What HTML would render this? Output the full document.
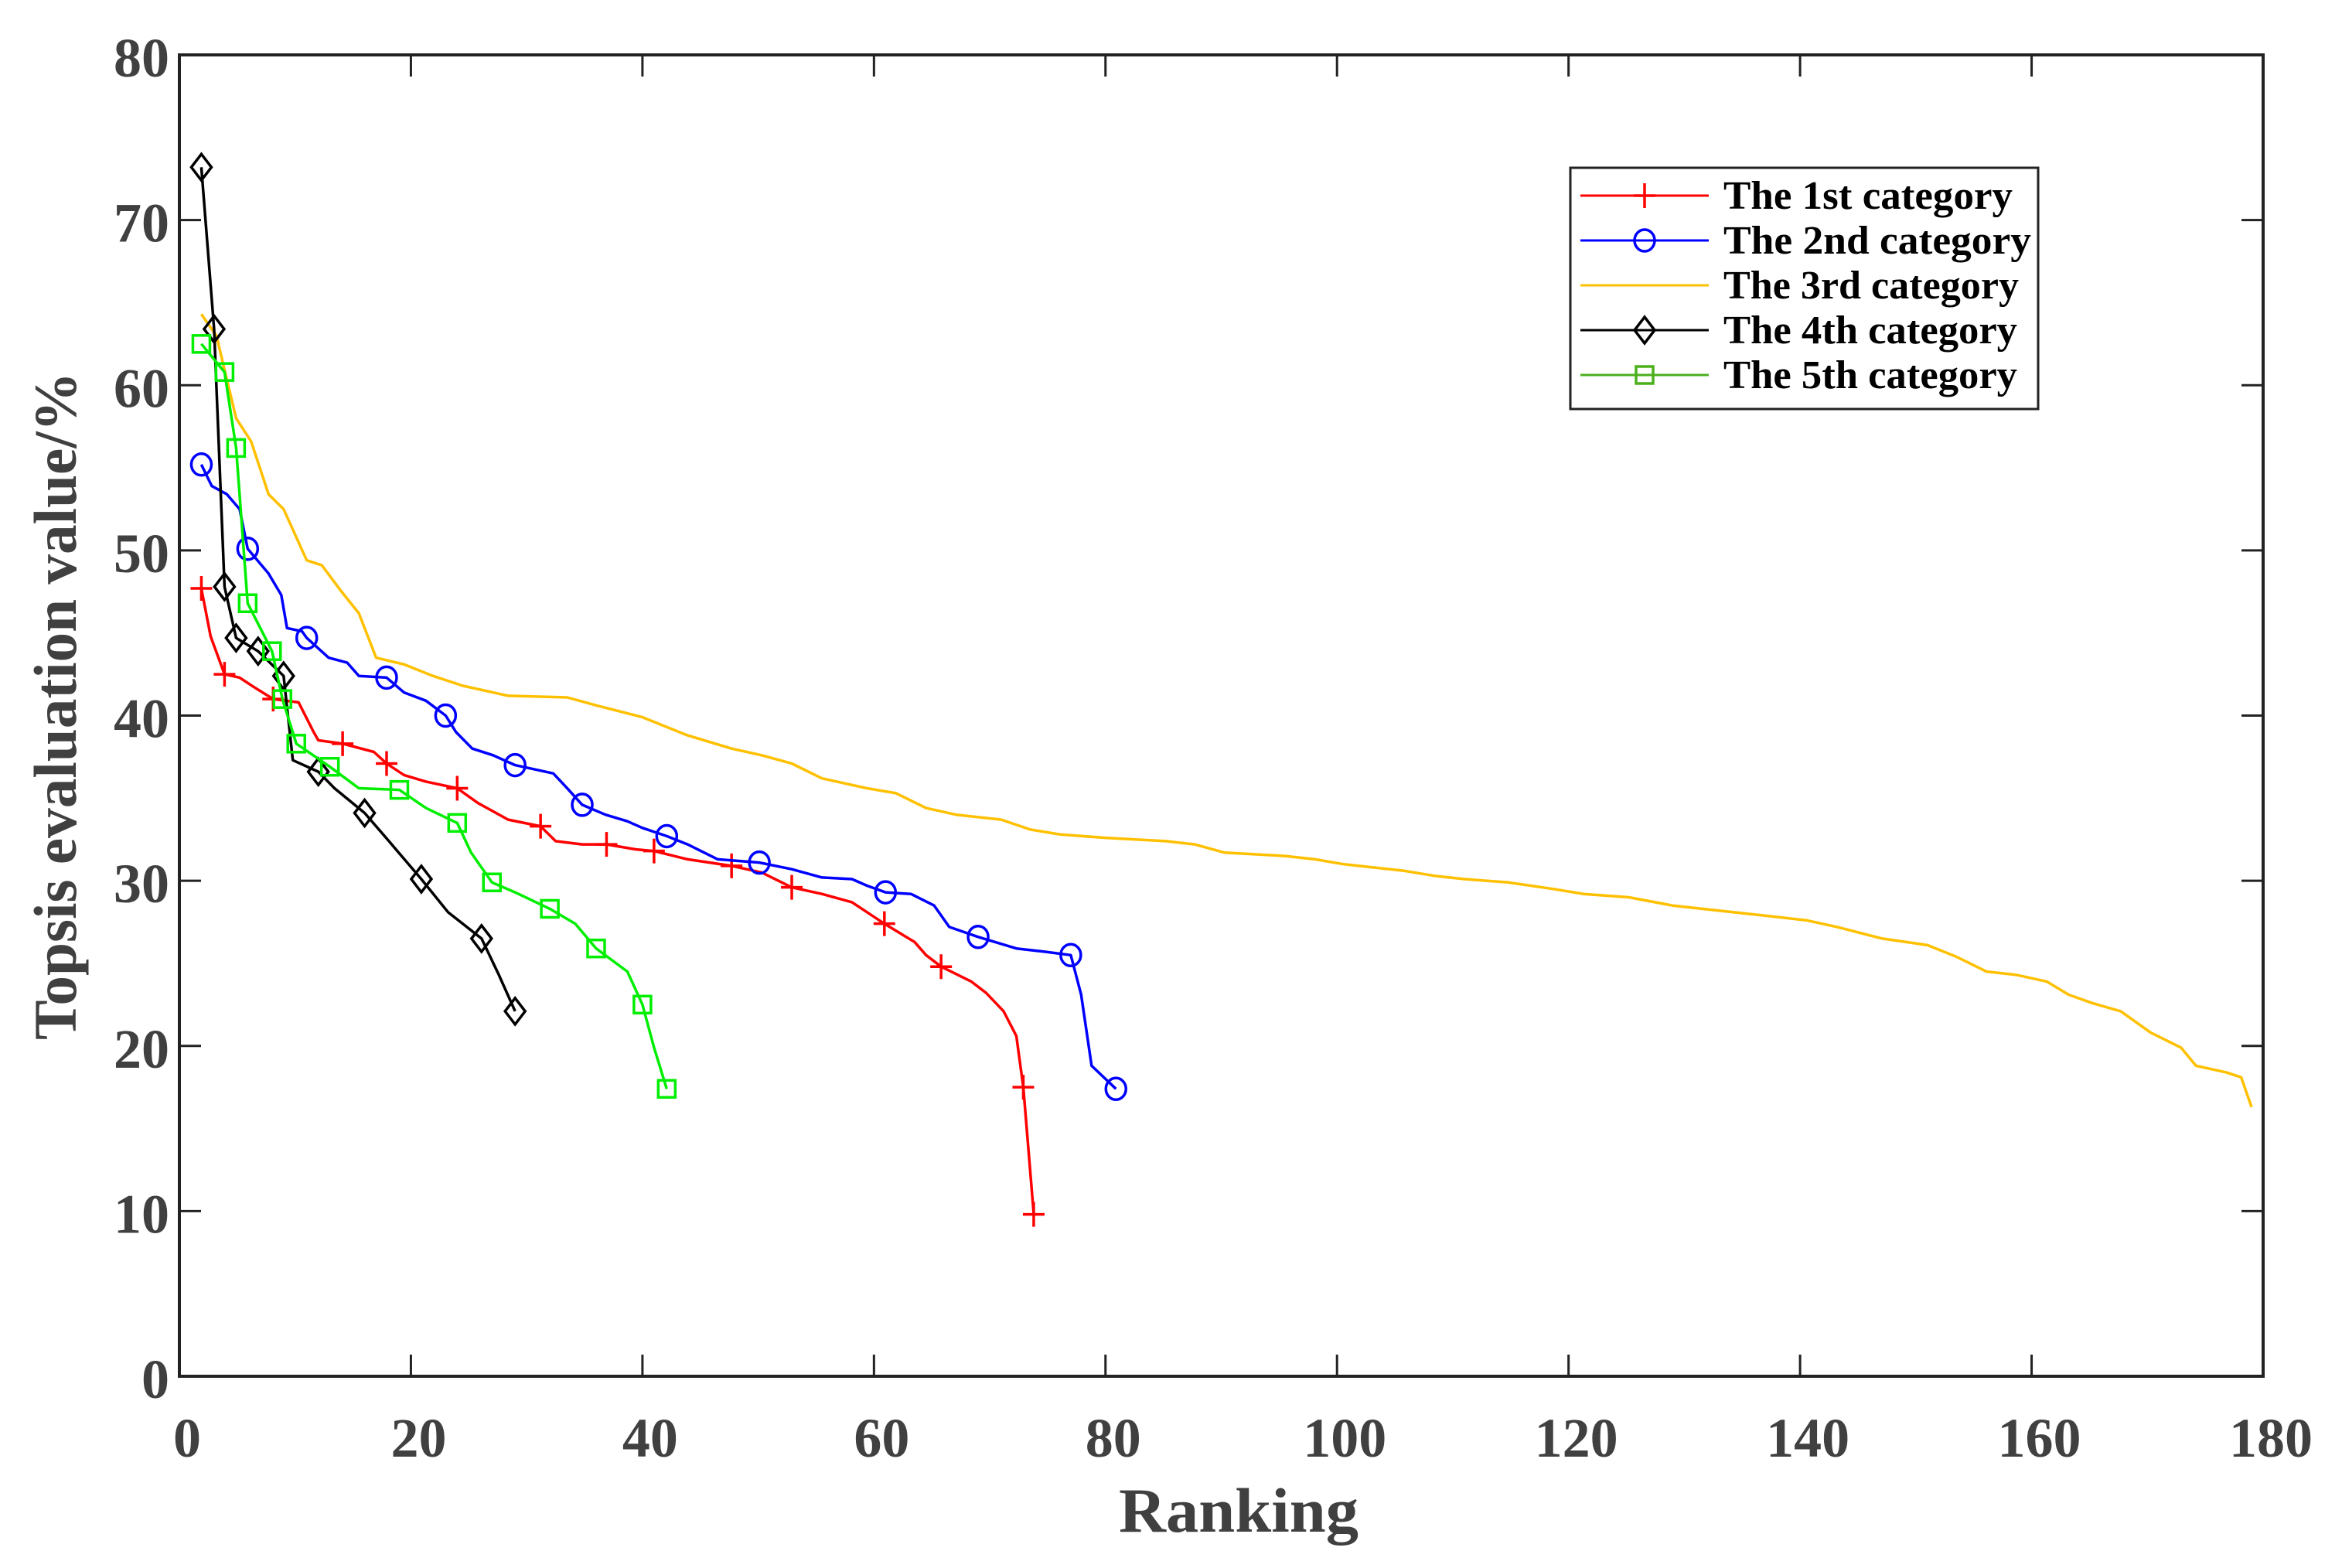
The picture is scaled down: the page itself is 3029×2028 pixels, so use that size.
<!DOCTYPE html>
<html><head><meta charset="utf-8"><style>
html,body{margin:0;padding:0;background:#fff;}
svg{display:block;}
</style></head>
<body>
<svg id="chart" width="3029" height="2028" viewBox="0 0 3029 2028" xmlns="http://www.w3.org/2000/svg" font-family="'Liberation Serif', serif" font-weight="bold">
<rect x="0" y="0" width="3029" height="2028" fill="#fff"/>
<g id="plot"></g>
<g id="axes"></g>
<g id="legend"></g>
</svg>
<script>
const xTicks = [0,20,40,60,80,100,120,140,160,180];
const yTicks = [0,10,20,30,40,50,60,70,80];
const seriesNames = ["The 1st category","The 2nd category","The 3rd category","The 4th category","The 5th category"];

const r1 = [1.9,2.7,3.9,5.2,6.5,8.1,10.3,11.6,12.0,14.1,16.8,17.9,19.4,21.3,24.0,25.8,28.4,31.2,32.5,34.8,36.9,39.4,41.0,43.9,47.7,50.3,52.9,55.5,58.1,60.9,63.5,64.5,65.8,68.4,69.7,71.2,72.3,72.9,73.8];
const v1 = [47.7,44.8,42.5,42.3,41.7,41.0,40.8,39.0,38.5,38.3,37.8,37.1,36.4,36.0,35.6,34.7,33.7,33.3,32.4,32.2,32.2,31.9,31.8,31.3,30.9,30.5,29.6,29.2,28.7,27.4,26.3,25.5,24.8,23.9,23.2,22.1,20.6,17.5,9.8];
const m1 = [1,0,1,0,0,1,0,0,0,1,0,1,0,0,1,0,0,1,0,0,1,0,1,0,1,0,1,0,0,1,0,0,1,0,0,0,0,1,1];

const r2 = [1.9,2.8,4.1,5.2,5.9,7.7,8.8,9.3,10.6,11.0,12.9,14.5,15.5,17.9,19.4,21.3,23.0,23.9,25.3,27.1,29.0,32.3,33.5,34.8,36.8,38.7,40.0,42.1,43.9,46.5,50.1,52.9,55.5,58.1,59.4,61.0,63.2,65.2,66.5,69.0,72.3,74.8,77.0,77.9,78.8,80.9];
const v2 = [55.2,53.9,53.4,52.5,50.1,48.6,47.3,45.3,45.1,44.7,43.5,43.2,42.4,42.3,41.4,40.9,40.0,39.0,38.0,37.6,37.0,36.5,35.6,34.6,34.0,33.6,33.2,32.7,32.2,31.3,31.1,30.7,30.2,30.1,29.7,29.3,29.2,28.5,27.2,26.6,25.9,25.7,25.5,23.1,18.8,17.4];
const m2 = [1,0,0,0,1,0,0,0,0,1,0,0,0,1,0,0,1,0,0,0,1,0,0,1,0,0,0,1,0,0,1,0,0,0,0,1,0,0,0,1,0,0,1,0,0,1];

const r3 = [1.9,3.2,4.9,6.2,7.7,9.0,11.0,12.3,13.9,15.5,17.0,19.4,21.9,24.5,28.4,33.5,36.1,40.0,43.9,47.7,50.3,52.9,55.5,59.4,61.9,64.5,67.1,71.0,73.5,76.1,80.0,85.2,87.7,90.3,95.5,98.1,100.6,105.8,108.4,111.0,114.8,118.7,121.3,125.2,129.0,132.9,136.8,140.6,143.2,147.1,151.0,153.5,156.1,158.7,161.3,163.2,165.2,167.7,170.3,172.9,174.2,176.8,178.1,179.0];
const v3 = [64.3,63.0,58.0,56.6,53.4,52.5,49.4,49.1,47.6,46.2,43.5,43.1,42.4,41.8,41.2,41.1,40.6,39.9,38.8,38.0,37.6,37.1,36.2,35.6,35.3,34.4,34.0,33.7,33.1,32.8,32.6,32.4,32.2,31.7,31.5,31.3,31.0,30.6,30.3,30.1,29.9,29.5,29.2,29.0,28.5,28.2,27.9,27.6,27.2,26.5,26.1,25.4,24.5,24.3,23.9,23.1,22.6,22.1,20.8,19.9,18.8,18.4,18.1,16.3];

const r4 = [1.9,3.0,3.9,4.9,6.8,9.0,9.8,12.0,13.4,16.0,18.1,20.9,23.2,26.1,27.6,29.0];
const v4 = [73.2,63.4,47.8,44.7,43.9,42.4,37.3,36.6,35.6,34.1,32.4,30.1,28.1,26.5,24.3,22.1];
const m4 = [1,1,1,1,1,1,0,1,0,1,0,1,0,1,0,1];

const r5 = [1.9,3.9,4.9,5.9,8.0,8.9,10.1,13.0,15.5,19.0,21.3,24.0,25.2,27.0,29.0,32.0,34.2,36.0,38.7,40.0,41.0,42.1];
const v5 = [62.5,60.8,56.2,46.8,43.9,41.0,38.3,36.9,35.6,35.5,34.4,33.5,31.7,29.9,29.3,28.3,27.4,25.9,24.5,22.5,19.9,17.4];
const m5 = [1,1,1,1,1,1,1,1,0,1,0,1,0,1,0,1,0,1,0,1,0,1];

const NS = "http://www.w3.org/2000/svg";
const L = 232, R = 2927, T = 71, B = 1780;
const xMin = 0, xMax = 180, yMin = 0, yMax = 80;
function X(r){ return L + (r - xMin) / (xMax - xMin) * (R - L); }
function Y(v){ return B - (v - yMin) / (yMax - yMin) * (B - T); }
function mk(tag, attrs, parent){
  const e = document.createElementNS(NS, tag);
  for (const k in attrs) e.setAttribute(k, attrs[k]);
  parent.appendChild(e);
  return e;
}
function marker(type, cx, cy, color, parent){
  let e;
  if (type === 'plus') {
    e = mk('path', {d:`M${cx-14},${cy}H${cx+14}M${cx},${cy-16}V${cy+16}`, stroke:color, 'stroke-width':3.5, fill:'none'}, parent);
  } else if (type === 'circle') {
    e = mk('ellipse', {cx:cx, cy:cy, rx:13, ry:14, stroke:color, 'stroke-width':3.5, fill:'none'}, parent);
  } else if (type === 'diamond') {
    e = mk('path', {d:`M${cx},${cy-17}L${cx+13},${cy}L${cx},${cy+17}L${cx-13},${cy}Z`, stroke:color, 'stroke-width':3.5, fill:'none'}, parent);
  } else if (type === 'square') {
    e = mk('rect', {x:cx-11, y:cy-11, width:22, height:22, stroke:color, 'stroke-width':3.5, fill:'none'}, parent);
  }
  return e;
}
const plot = document.getElementById('plot');
const series = [
  {r:r1, v:v1, m:m1, color:'#ff0000', mt:'plus', key:'series-1st-category'},
  {r:r2, v:v2, m:m2, color:'#0000ff', mt:'circle', key:'series-2nd-category'},
  {r:r3, v:v3, m:null, color:'#ffc000', mt:null, key:'series-3rd-category'},
  {r:r4, v:v4, m:m4, color:'#000000', mt:'diamond', key:'series-4th-category'},
  {r:r5, v:v5, m:m5, color:'#00ee00', mt:'square', key:'series-5th-category'}
];
series.forEach(s => {
  const g = mk('g', {}, plot);
  
  
  const pts = s.r.map((r,i) => X(r).toFixed(1) + ',' + Y(s.v[i]).toFixed(1)).join(' ');
  const line = mk('polyline', {points:pts, fill:'none', stroke:s.color, 'stroke-width':3.5, 'stroke-linejoin':'round'}, g);
  
  
  if (s.m) {
    s.r.forEach((r,i) => {
      if (!s.m[i]) return;
      const e = marker(s.mt, X(r), Y(s.v[i]), s.color, g);
      
      
    });
  }
});

const axes = document.getElementById('axes');
const frame = mk('rect', {x:L, y:T, width:R-L, height:B-T, fill:'none', stroke:'#222', 'stroke-width':4}, axes);


xTicks.forEach(t => {
  const x = X(t);
  const tk = mk('path', {d:`M${x},${B}V${B-28}M${x},${T}V${T+28}`, stroke:'#222', 'stroke-width':3}, axes);
  
  
  const lb = mk('text', {x:x+10, y:1884, 'text-anchor':'middle', 'font-size':72, fill:'#404040'}, axes);
  lb.textContent = t;
  
  
});
yTicks.forEach(t => {
  const y = Y(t);
  const tk = mk('path', {d:`M${L},${y}H${L+28}M${R},${y}H${R-28}`, stroke:'#222', 'stroke-width':3}, axes);
  
  
  const lb = mk('text', {x:219, y:y+28, 'text-anchor':'end', 'font-size':72, fill:'#404040'}, axes);
  lb.textContent = t;
  
  
});
const xt = mk('text', {x:1602, y:1981, 'text-anchor':'middle', 'font-size':82, fill:'#404040', textLength:310, lengthAdjust:'spacingAndGlyphs'}, axes);
xt.textContent = 'Ranking';


const yt = mk('text', {x:0, y:0, 'text-anchor':'middle', 'font-size':78, fill:'#404040', textLength:864, lengthAdjust:'spacingAndGlyphs', transform:'translate(98,913) rotate(-90)'}, axes);
yt.textContent = 'Topsis evaluation value/%';



const leg = document.getElementById('legend');


mk('rect', {x:2031, y:217, width:605, height:312, fill:'#fff', stroke:'#222', 'stroke-width':3}, leg);
const rowY = [253, 311, 369, 427, 485];
const legW = [374, 398, 382, 380, 380];
series.forEach((s,i) => {
  const g = mk('g', {}, leg);
  
  
  const y = rowY[i];
  mk('line', {x1:2044, y1:y, x2:2210, y2:y, stroke:i===4?'#4cb01c':s.color, 'stroke-width':3}, g);
  if (s.mt) marker(s.mt, 2127, y, i===4?'#4cb01c':s.color, g);
  const t = mk('text', {x:2229, y:y+17, 'font-size':52, fill:'#000', textLength:legW[i], lengthAdjust:'spacingAndGlyphs'}, g);
  t.textContent = seriesNames[i];
});
</script>
</body></html>
